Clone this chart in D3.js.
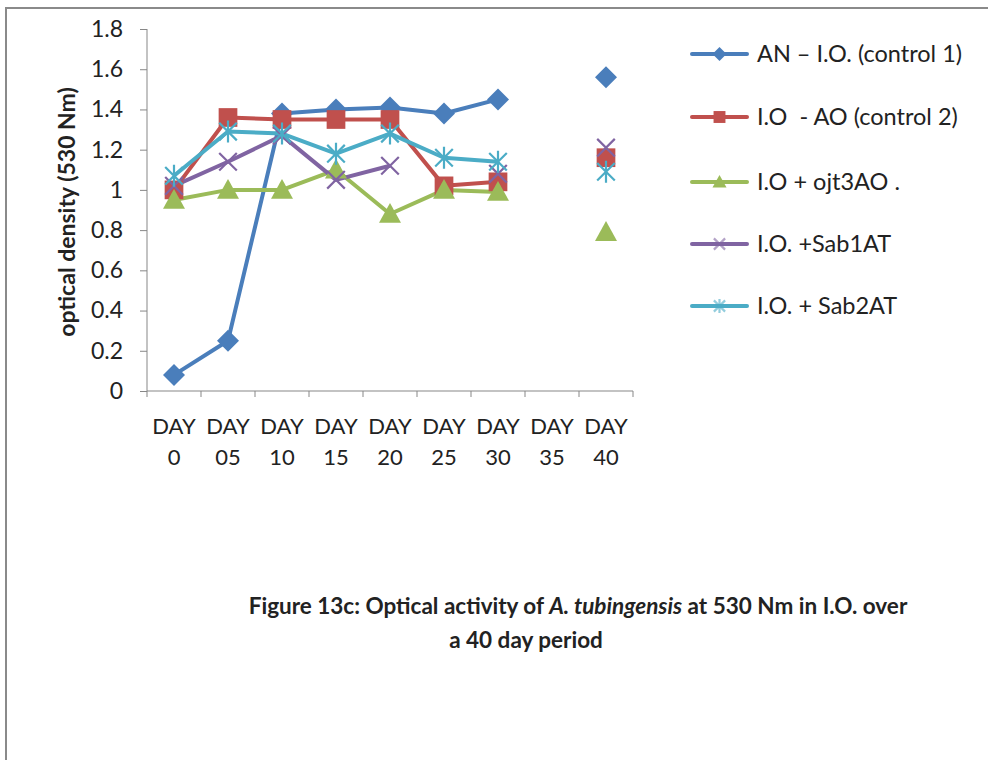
<!DOCTYPE html>
<html>
<head>
<meta charset="utf-8">
<script src="https://cdn.jsdelivr.net/npm/d3@7"></script>
<style>
  html, body { margin: 0; padding: 0; background: #fff; }
  svg { display: block; }
  text { font-family: Lato, "Open Sans", "Liberation Sans", sans-serif; fill: #222; }
</style>
</head>
<body>
<svg id="chart" width="988" height="760"></svg>
<script>
// Sampling days (category axis)
const categories = ["DAY 0", "DAY 05", "DAY 10", "DAY 15", "DAY 20", "DAY 25", "DAY 30", "DAY 35", "DAY 40"];

// Optical density readings at 530 Nm; null = no reading
const anControl1   = [0.08, 0.25, 1.38, 1.40, 1.41, 1.38, 1.45, null, 1.56];
const ioAoControl2 = [1.00, 1.36, 1.35, 1.35, 1.35, 1.02, 1.04, null, 1.16];
const ioOjt3ao     = [0.95, 1.00, 1.00, 1.10, 0.88, 1.00, 0.99, null, 0.79];
const ioSab1at     = [1.02, 1.14, 1.27, 1.05, 1.12, null, 1.08, null, 1.21];
const ioSab2at     = [1.07, 1.29, 1.28, 1.18, 1.28, 1.16, 1.14, null, 1.09];

const seriesNames  = ["AN \u2013 I.O. (control 1)", "I.O \u00a0- AO (control 2)", "I.O + ojt3AO .", "I.O. +Sab1AT", "I.O. + Sab2AT"];
const seriesColors = ["#4A7EBB", "#C0504D", "#9BBB59", "#8064A2", "#4BACC6"];
const seriesMarks  = ["diamond", "square", "triangle", "cross", "star"];

const yTicks = [0, 0.2, 0.4, 0.6, 0.8, 1, 1.2, 1.4, 1.6, 1.8];

const series = [anControl1, ioAoControl2, ioOjt3ao, ioSab1at, ioSab2at].map((vals, i) => ({
  name: seriesNames[i], color: seriesColors[i], mark: seriesMarks[i],
  values: vals.map((v, j) => ({ cat: categories[j], v }))
}));

const svg = d3.select("#chart");

// outer frame
svg.append("path")
  .attr("d", "M6,760 V8 H988")
  .attr("fill", "none").attr("stroke", "#8a8a8a").attr("stroke-width", 2);

const x = d3.scaleBand().domain(categories).range([147, 633]);
const y = d3.scaleLinear().domain([0, 1.8]).range([391, 29]);

const axisColor = "#878787";

// y axis
const gy = svg.append("g").attr("transform", "translate(147,0)")
  .call(d3.axisLeft(y).tickValues(yTicks).tickSize(7).tickPadding(17).tickFormat(d3.format("~g")));
gy.selectAll("path, line").attr("stroke", axisColor);
gy.select(".domain").attr("d", `M0,${y(1.8)}V${y(0)}`);
gy.selectAll("text").attr("font-size", 23).attr("fill", "#222");

// x axis: labels centred on bands, ticks at band edges
const gx = svg.append("g").attr("transform", `translate(0,${y(0)})`)
  .call(d3.axisBottom(x).tickSize(0).tickPadding(0));
gx.select(".domain").attr("stroke", axisColor).attr("d", `M${x.range()[0]},0H${x.range()[1]}`);
gx.selectAll(".tick text").each(function(d) {
  const t = d3.select(this).text(null).attr("font-size", 22).attr("fill", "#222")
    .attr("y", null).attr("dy", null);
  const parts = d.split(" ");
  t.append("tspan").attr("x", 0).attr("y", 43).text(parts[0]);
  t.append("tspan").attr("x", 0).attr("y", 74).text(parts[1]);
});
const edges = categories.map(c => x(c) + x.bandwidth()).concat([x(categories[0])]);
gx.selectAll(".edge").data(edges).enter().append("line")
  .attr("x1", d => d).attr("x2", d => d).attr("y1", 0).attr("y2", 6)
  .attr("stroke", axisColor);

// y axis title
svg.append("text")
  .attr("transform", `translate(75,212) rotate(-90)`)
  .attr("text-anchor", "middle")
  .attr("font-size", 23).attr("font-weight", "bold")
  .text("optical density (530 Nm)");

// marker drawing
function drawMark(g, mark, color, s) {
  if (mark === "diamond") {
    g.append("path").attr("d", `M0,${-s}L${s},0L0,${s}L${-s},0Z`).attr("fill", color);
  } else if (mark === "square") {
    g.append("rect").attr("x", -s * 0.85).attr("y", -s * 0.85).attr("width", s * 1.7).attr("height", s * 1.7).attr("fill", color);
  } else if (mark === "triangle") {
    g.append("path").attr("d", `M0,${-s}L${s},${s * 0.8}L${-s},${s * 0.8}Z`).attr("fill", color);
  } else if (mark === "cross") {
    const r = s * 0.8;
    g.append("path").attr("d", `M${-r},${-r}L${r},${r}M${-r},${r}L${r},${-r}`)
      .attr("stroke", color).attr("stroke-width", 2.2).attr("fill", "none");
  } else if (mark === "star") {
    const r = s * 0.8;
    g.append("path").attr("d", `M${-r},${-r}L${r},${r}M${-r},${r}L${r},${-r}M0,${-s}L0,${s}`)
      .attr("stroke", color).attr("stroke-width", 2.2).attr("fill", "none");
  }
}

const line = d3.line()
  .defined(d => d.v !== null)
  .x(d => x(d.cat) + x.bandwidth() / 2)
  .y(d => y(d.v));

const plot = svg.append("g");
series.forEach(s => {
  plot.append("path").datum(s.values)
    .attr("d", line)
    .attr("fill", "none").attr("stroke", s.color)
    .attr("stroke-width", 4).attr("stroke-linejoin", "round");
});
series.forEach(s => {
  s.values.filter(d => d.v !== null).forEach(d => {
    const g = plot.append("g")
      .attr("transform", `translate(${x(d.cat) + x.bandwidth() / 2},${y(d.v)})`);
    drawMark(g, s.mark, s.color, 11);
  });
});

// legend
const legendY = [54, 117, 182, 244, 306];
const lg = svg.append("g");
series.forEach((s, i) => {
  const row = lg.append("g").attr("transform", `translate(692,${legendY[i]})`);
  row.append("line").attr("x1", 0).attr("x2", 55).attr("y1", 0).attr("y2", 0)
    .attr("stroke", s.color).attr("stroke-width", 4).attr("stroke-linecap", "round");
  const m = row.append("g").attr("transform", "translate(27.5,0)").attr("opacity", s.mark === "cross" || s.mark === "star" ? 0.6 : 1);
  drawMark(m, s.mark, s.color, 7);
  row.append("text").attr("x", 65).attr("dy", "0.35em").attr("font-size", 23.5).text(s.name);
});

// caption
const cap = svg.append("g").attr("font-weight", "bold").attr("font-size", 22.5);
const c1 = cap.append("text").attr("x", 578).attr("y", 614).attr("text-anchor", "middle");
c1.append("tspan").text("Figure 13c: Optical activity of ");
c1.append("tspan").attr("font-style", "italic").text("A. tubingensis");
c1.append("tspan").text(" at 530 Nm in I.O. over");
cap.append("text").attr("x", 526).attr("y", 648).attr("text-anchor", "middle").text("a 40 day period");
</script>
</body>
</html>
